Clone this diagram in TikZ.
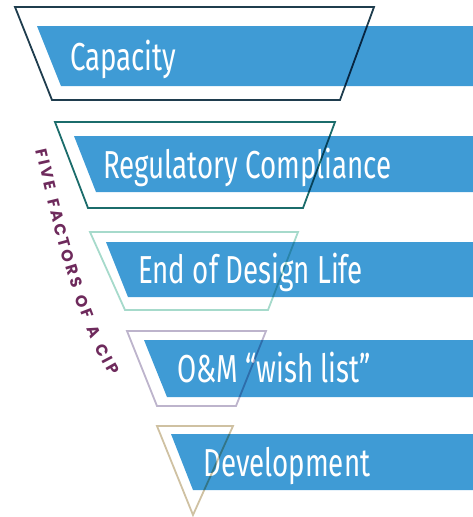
\documentclass[tikz,border=0pt]{standalone}
\usepackage{fontspec}
\newfontfamily\barfont[FakeStretch=0.71]{Fira Sans}
\newfontfamily\arcfont{Poppins}
\usetikzlibrary{decorations.text}
\definecolor{barblue}{HTML}{3F9BD5}
\definecolor{lineA}{HTML}{1F3D4E}
\definecolor{lineB}{HTML}{1B6C6B}
\definecolor{lineC}{HTML}{A6DACB}
\definecolor{lineD}{HTML}{BDB4CC}
\definecolor{lineE}{HTML}{CFC1A2}
\definecolor{plum}{HTML}{6E2A5C}
\begin{document}
\begin{tikzpicture}[x=1pt,y=-1pt,
  bar/.style={fill=barblue},
  outline/.style={line width=1.8pt, line join=miter, blend mode=multiply},
  barlabel/.style={text=white, font=\barfont\fontsize{39}{39}\selectfont, anchor=base west, inner sep=0pt}]
\useasboundingbox (0,0) rectangle (473,517);
% bars
\fill[bar] (37,26) -- (473,26) -- (473,86) -- (61,86) -- cycle;
\fill[bar] (74,136) -- (473,136) -- (473,192) -- (96,192) -- cycle;
\fill[bar] (106,242) -- (473,242) -- (473,297) -- (128,297) -- cycle;
\fill[bar] (144,340) -- (473,340) -- (473,397) -- (167,397) -- cycle;
\fill[bar] (171,434) -- (473,434) -- (473,490) -- (193,490) -- cycle;
% labels
\node[barlabel] (cap) at (70,70) {Capacity};
\node[barlabel] (reg) at (103,178) {Regulatory Compliance};
\node[barlabel] (eod) at (138,283) {End of Design Life};
\node[barlabel] (om) at (177,382) {O\&M “wish list”};
\node[barlabel] (dev) at (203,476) {Development};
% outlines
\draw[outline, lineA] (15,7) -- (374,7) -- (340,100) -- (52,100) -- cycle;
\draw[outline, lineB] (55,122) -- (335,122) -- (303,208) -- (88,208) -- cycle;
\draw[outline, lineC] (90,232) -- (298,232) -- (268,310) -- (125,310) -- cycle;
\draw[outline, lineD] (127,331) -- (266,331) -- (236,406) -- (157,406) -- cycle;
\draw[outline, lineE] (157,426) -- (233,426) -- (193,515) -- cycle;
% arc text
\path[decorate, decoration={text along path,
  text={|\arcfont\bfseries\fontsize{16}{16}\selectfont\color{plum}|FIVE FACTORS OF A CIP},
  text align=fit to path}]
  (36,150) .. controls (56,240) and (76,318) .. (110,376);
\end{tikzpicture}
\end{document}
